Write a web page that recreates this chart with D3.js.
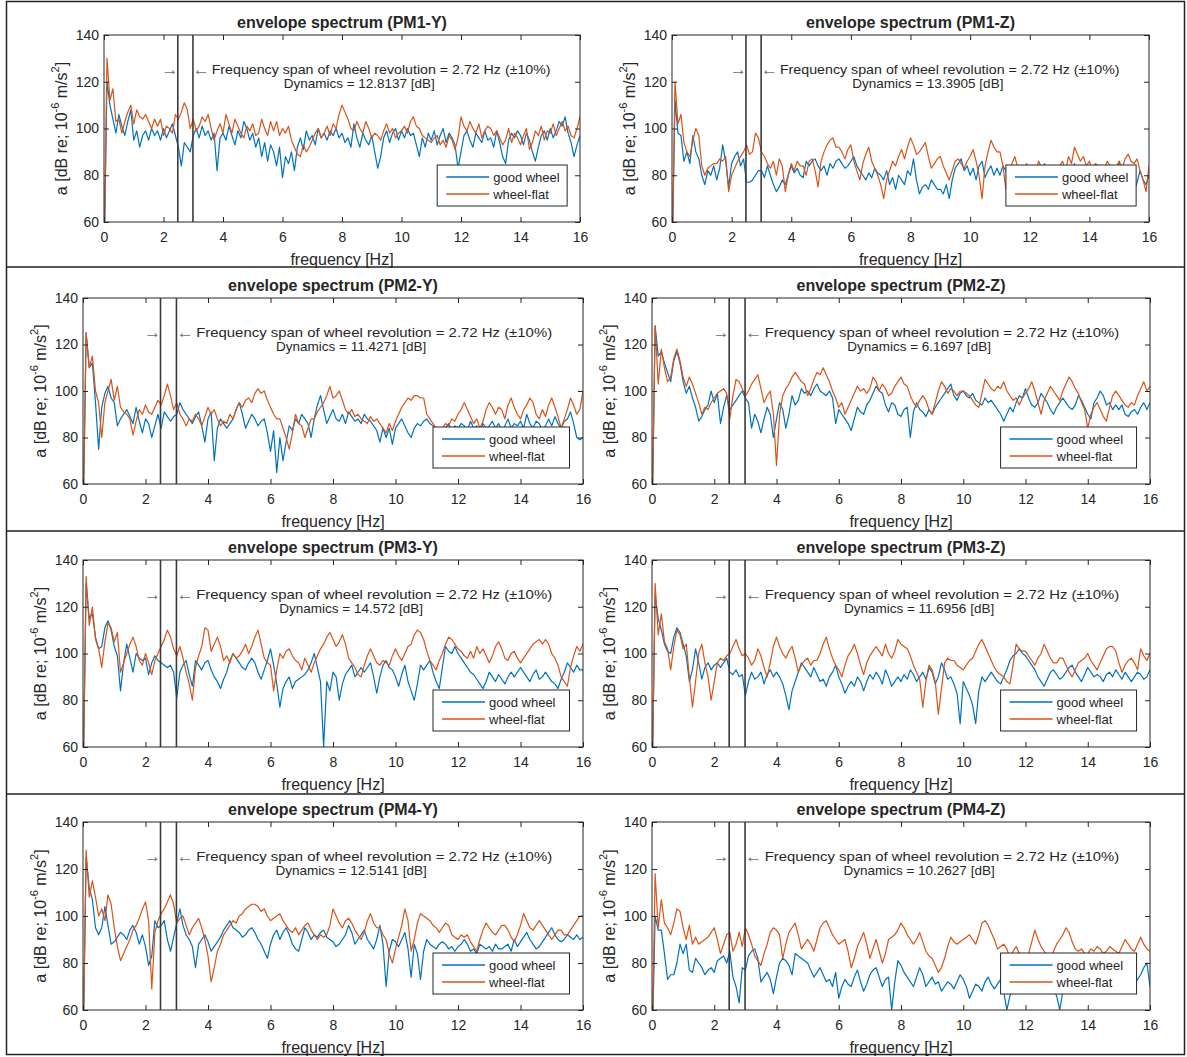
<!DOCTYPE html>
<html>
<head>
<meta charset="utf-8">
<script src="https://cdn.jsdelivr.net/npm/d3@7"></script>
<style>
body { margin: 0; background: #fff; }
svg text { font-family: "Liberation Sans", Arial, sans-serif; fill: #262626; }
</style>
</head>
<body>
<script>
// frequency grid, 0 .. 16 Hz every 0.1 Hz
var freq = d3.range(161).map(function(i) { return i / 10; });

var xTicks = [0, 2, 4, 6, 8, 10, 12, 14, 16];
var yTicks = [60, 80, 100, 120, 140];
var spanLines = [2.48, 2.99];

var panelNames = ["PM1-Y", "PM1-Z", "PM2-Y", "PM2-Z", "PM3-Y", "PM3-Z", "PM4-Y", "PM4-Z"];
var dynamics = ["12.8137", "13.3905", "11.4271", "6.1697", "14.572", "11.6956", "12.5141", "10.2627"];
var seriesNames = ["good wheel", "wheel-flat"];

// one row per Hz
var pm1yGood = [40,120,110,104,98,106,101,97,103,108,
95,99,92,97,99,95,100,97,99,95,
100,96,99,102,97,92,84,94,92,90,
97,100,96,101,97,99,95,98,82,96,
98,95,101,97,93,99,96,103,100,95,
98,92,96,88,94,86,93,90,84,92,
79,88,85,90,82,92,96,91,99,95,
97,93,100,96,98,95,99,97,100,96,
98,94,96,92,102,96,92,98,95,93,
97,90,83,88,96,99,94,98,100,95,
99,96,100,97,98,93,88,96,92,98,
95,99,93,97,100,94,98,96,93,83,
90,97,99,95,92,98,96,94,99,95,
96,92,99,94,88,85,95,98,96,99,
97,93,98,95,90,86,92,97,99,95,
100,96,99,103,101,105,98,94,88,93,
97];
var pm1yFlat = [40,130,112,117,103,104,98,103,107,110,
102,108,105,104,106,103,100,104,101,104,
97,101,100,98,106,104,107,111,108,100,
104,99,101,105,103,106,100,95,99,102,
98,106,102,98,104,101,98,96,101,99,
102,97,98,104,100,97,103,99,103,97,
100,98,101,95,92,89,88,93,90,92,
95,98,100,96,98,101,97,102,100,106,
110,107,104,100,99,103,100,98,103,100,
96,98,97,95,99,102,98,100,96,98,
99,101,98,103,105,101,100,97,96,95,
94,96,97,93,95,92,97,95,91,96,
105,101,99,103,100,98,102,96,99,101,
100,97,99,96,93,95,100,94,98,96,
93,97,100,91,94,99,97,101,95,99,
98,102,97,100,103,99,101,97,96,100,
105];
var pm1zGood = [40,112,98,97,86,90,85,97,90,87,
80,76,82,80,84,78,83,93,86,75,
85,88,90,84,87,77,77,78,80,82,
82,79,84,80,76,73,75,78,76,80,
84,81,83,80,79,86,84,86,87,84,
82,84,80,85,83,86,87,85,83,84,
86,88,84,82,80,78,81,79,83,81,
80,78,82,76,79,74,80,78,76,82,
80,87,78,72,75,76,74,78,76,74,
74,72,76,70,78,83,85,87,82,84,
80,83,78,84,86,79,82,84,80,83,
80,84,82,78,83,80,79,82,78,81,
80,78,82,79,81,77,80,83,78,80,
82,78,80,77,81,85,79,82,78,80,
84,79,81,76,80,82,78,81,79,83,
86,80,78,84,79,73,77,82,78,76,
80];
var pm1zFlat = [40,120,102,106,94,90,88,95,100,97,
84,80,83,84,85,85,87,86,88,73,
80,83,86,88,90,93,89,90,98,96,
90,88,85,83,86,80,87,84,73,80,
85,82,86,84,84,80,86,87,82,75,
86,90,93,95,96,92,92,90,87,91,
93,86,82,78,85,89,92,86,83,80,
76,70,78,82,86,84,88,91,87,92,
96,93,89,90,92,94,88,83,85,87,
88,84,81,78,82,86,87,85,83,86,
88,91,86,80,70,84,90,95,92,90,
90,84,74,80,85,88,83,80,82,85,
80,84,82,86,83,85,81,84,80,83,
84,86,82,88,85,92,89,86,88,84,
86,82,85,84,80,83,86,84,81,83,
86,83,87,89,86,85,87,82,78,73,
84];
var pm2yGood = [40,125,110,112,95,75,93,99,102,97,
95,85,88,90,92,89,86,93,87,82,
88,86,80,85,90,84,91,89,87,89,
90,95,92,90,88,86,89,91,85,78,
88,91,70,84,88,86,84,86,88,92,
95,90,84,87,90,88,85,87,88,82,
74,83,65,80,70,78,85,83,88,86,
90,88,86,80,88,94,98,92,86,89,
92,88,87,90,86,91,89,87,88,86,
90,88,87,85,83,78,84,80,84,77,
84,86,88,85,82,80,84,86,85,87,
88,86,85,83,84,82,84,86,83,85,
84,86,85,83,87,84,85,82,86,84,
85,87,84,86,83,85,88,84,86,85,
87,84,90,86,84,87,86,83,85,88,
85,89,86,84,87,88,91,86,80,79,
80];
var pm2yFlat = [40,125,110,115,100,95,80,95,100,105,
96,102,93,91,90,88,81,87,92,90,
94,91,90,93,96,94,98,103,98,92,
95,90,88,85,88,87,90,88,85,89,
93,90,92,88,85,87,86,90,88,92,
95,93,96,97,95,99,101,99,100,96,
93,90,88,88,84,80,75,82,90,86,
85,80,84,88,88,91,93,95,98,102,
97,98,100,96,92,90,92,89,90,88,
87,86,89,87,88,86,84,82,86,83,
87,90,93,95,97,96,98,98,97,97,
90,88,86,84,82,84,86,85,88,87,
90,92,95,92,89,86,88,84,87,92,
95,93,90,93,92,88,94,97,93,90,
88,92,94,97,95,90,88,92,89,94,
97,93,89,84,88,92,97,94,90,92,
100];
var pm2zGood = [40,128,115,117,112,108,104,113,117,112,
104,99,102,97,93,87,89,92,94,100,
95,99,86,93,98,92,94,96,98,100,
97,95,84,90,87,82,88,93,90,80,
88,95,92,84,90,98,94,96,101,99,
100,98,101,103,100,99,98,100,97,86,
92,90,88,86,83,88,93,91,90,94,
96,99,102,100,99,94,91,95,94,90,
89,92,93,80,91,95,92,91,89,92,
90,93,95,97,99,101,103,98,96,99,
100,98,97,99,96,95,94,97,95,96,
94,92,90,87,90,93,91,95,98,97,
101,97,94,93,95,99,97,95,92,90,
93,95,97,95,93,92,94,98,96,93,
90,88,95,97,100,98,94,95,92,94,
92,94,90,89,91,92,90,93,95,92,
95];
var pm2zFlat = [40,128,103,118,110,104,106,114,118,113,
106,102,106,103,99,95,90,93,92,95,
97,99,100,101,99,88,98,105,104,101,
98,100,103,105,107,101,95,98,100,90,
68,90,98,101,103,106,108,106,104,103,
98,101,105,108,107,110,107,104,100,97,
93,95,90,93,96,99,102,100,101,99,
101,106,104,100,103,101,98,99,102,104,
106,103,102,98,95,93,96,98,96,92,
90,95,100,104,102,99,101,100,98,100,
100,99,98,96,94,93,99,105,103,101,
100,102,101,104,100,98,96,97,94,97,
99,101,104,100,95,90,96,99,102,100,
98,96,100,103,106,104,101,99,95,92,
84,90,93,95,92,89,87,93,98,100,
98,96,94,93,95,94,98,101,104,100,
102];
var pm3yGood = [40,130,115,117,107,102,103,111,114,110,
103,99,84,96,104,98,92,100,98,97,
98,91,96,99,97,96,95,94,95,92,
81,92,95,97,91,86,97,95,93,96,
97,93,90,88,85,89,92,97,100,98,
96,94,93,96,98,96,92,89,93,97,
102,95,87,77,85,88,90,85,88,89,
90,91,93,96,100,94,88,60,88,84,
92,90,80,87,91,93,95,90,92,94,
92,94,96,90,83,90,95,97,94,93,
90,86,91,95,88,84,80,87,95,93,
95,97,92,88,85,94,103,101,100,103,
100,98,96,94,92,91,89,87,85,88,
92,90,88,91,89,87,90,92,90,92,
94,92,90,88,91,93,89,90,92,90,
88,87,85,89,92,96,94,92,95,93,
93];
var pm3yFlat = [40,133,112,120,106,102,94,105,113,111,
105,109,92,96,100,104,107,103,97,95,
100,96,91,97,100,103,106,110,107,102,
99,103,98,92,87,80,94,99,103,111,
110,101,104,107,103,97,99,96,100,98,
99,101,104,100,103,107,110,104,98,96,
95,84,93,100,98,101,102,99,97,96,
93,98,95,92,96,99,102,104,107,109,
106,103,105,108,104,98,96,94,91,90,
95,99,102,99,96,95,97,96,95,99,
102,99,97,100,103,104,108,110,109,106,
101,97,95,93,97,100,104,107,106,104,
102,101,99,98,101,98,103,100,102,99,
96,99,103,105,102,98,97,100,101,98,
96,98,100,102,104,105,106,104,106,104,
100,98,95,90,88,86,94,99,103,101,
104];
var pm3zGood = [40,125,115,110,104,101,100,107,111,109,
104,99,88,93,102,96,89,94,96,93,
95,96,94,96,98,92,91,93,90,91,
82,88,92,89,90,92,87,91,93,90,
92,90,87,82,76,84,88,92,96,94,
92,90,94,91,88,89,86,90,92,95,
90,87,83,86,88,86,90,88,84,88,
91,89,92,90,87,93,90,86,88,90,
88,91,89,93,91,88,90,92,89,94,
92,87,90,96,93,89,90,87,83,70,
88,85,82,78,70,84,90,88,90,92,
90,88,87,90,93,97,99,100,102,100,
99,97,95,93,90,88,86,89,92,93,
91,89,90,92,94,95,92,90,88,91,
94,92,90,91,90,88,91,92,90,93,
91,89,92,90,88,90,92,91,89,90,
93];
var pm3zFlat = [40,130,108,117,105,102,93,103,110,108,
102,104,90,77,88,100,104,96,90,80,
88,96,98,97,99,100,103,106,102,99,
100,98,95,97,102,99,94,90,96,103,
107,103,100,98,101,103,98,92,95,97,
98,95,97,97,100,104,107,102,98,95,
93,90,95,99,101,104,100,95,91,96,
99,101,103,101,99,104,100,98,101,106,
104,103,102,99,95,92,89,77,88,95,
93,88,74,85,96,98,97,97,95,94,
93,95,97,98,101,104,106,103,100,97,
94,92,91,90,88,87,95,104,102,101,
101,99,97,95,98,100,104,101,98,96,
96,98,98,95,92,90,93,96,97,98,
100,97,95,93,96,99,102,103,103,101,
96,92,95,97,98,96,93,102,99,97,
100];
var pm4yGood = [40,125,112,107,95,92,95,104,96,88,
89,91,93,92,90,94,96,93,88,92,
87,79,83,98,95,96,98,90,85,91,
97,103,96,92,90,87,78,88,90,92,
89,85,87,89,91,94,96,98,95,94,
93,91,92,94,95,93,90,88,85,82,
88,92,94,90,93,95,92,88,86,85,
90,95,93,90,92,91,93,94,91,90,
89,87,88,90,92,96,93,88,90,92,
94,90,88,86,90,96,88,70,85,90,
89,87,90,93,86,74,88,84,73,85,
90,88,87,86,88,89,88,86,87,85,
87,88,90,88,85,86,84,88,87,86,
87,85,88,86,86,87,88,85,90,87,
89,91,93,90,88,86,87,89,91,93,
95,92,90,89,90,92,91,90,92,90,
91];
var pm4yFlat = [40,128,108,115,108,100,103,98,109,105,
95,87,81,84,87,90,94,96,99,103,
106,98,69,93,98,101,103,106,109,105,
97,99,100,96,92,95,97,99,95,90,
83,72,78,85,88,92,94,96,98,97,
100,101,103,104,105,105,104,102,103,100,
98,99,100,101,98,96,94,93,95,92,
94,96,97,94,92,90,92,91,92,96,
103,100,97,95,98,99,97,94,92,90,
93,98,101,97,95,95,92,90,84,80,
86,91,96,103,98,85,90,97,101,100,
99,98,96,95,93,95,97,96,92,91,
90,92,91,92,89,87,85,90,94,97,
95,93,92,94,96,96,94,91,89,92,
96,101,98,95,94,96,98,96,94,92,
90,92,94,94,92,92,94,96,98,100,
100];
var pm4zGood = [40,100,94,94,84,73,75,75,80,88,
84,88,77,76,82,80,78,75,77,78,
76,81,82,83,80,85,74,70,63,78,
77,83,85,86,82,72,74,76,73,67,
74,80,82,81,79,75,84,83,82,81,
80,77,74,76,78,75,72,73,70,76,
65,70,73,71,70,74,77,72,68,71,
75,77,78,74,70,73,74,60,72,81,
79,76,74,72,70,74,78,75,70,72,
74,71,72,68,70,72,71,69,72,75,
73,70,65,68,71,70,68,72,74,71,
69,71,73,68,60,66,70,72,71,72,
77,75,73,75,72,68,70,73,72,69,
66,60,68,70,72,71,73,74,71,70,
70,72,73,71,75,74,72,70,73,74,
72,74,76,75,73,71,73,75,78,80,
70];
var pm4zFlat = [40,118,95,107,97,95,92,97,103,102,
95,90,96,88,91,88,89,90,91,93,
95,90,84,88,92,93,85,88,93,87,
95,92,88,83,81,79,84,88,93,95,
94,92,82,88,93,95,97,92,86,88,
90,88,85,90,95,97,98,95,92,90,
88,89,90,85,78,82,87,90,93,88,
82,86,90,85,80,84,90,91,92,94,
97,95,92,90,88,90,93,89,85,83,
82,79,76,78,82,87,91,89,88,89,
90,91,92,90,88,92,97,98,96,93,
90,86,87,88,86,82,85,87,84,82,
80,84,89,94,90,87,85,83,82,85,
88,90,92,95,93,89,86,85,86,84,
84,86,85,87,86,84,85,87,86,85,
84,87,90,88,86,85,88,91,88,86,
85];

var goodSeries = [pm1yGood, pm1zGood, pm2yGood, pm2zGood, pm3yGood, pm3zGood, pm4yGood, pm4zGood];
var flatSeries = [pm1yFlat, pm1zFlat, pm2yFlat, pm2zFlat, pm3yFlat, pm3zFlat, pm4yFlat, pm4zFlat];

var colors = ["#0072BD", "#D95319"];

// axes boxes in the figure (pixels)
var colX = [[[104, 580], [672, 1149]],
            [[83, 583], [652, 1150]],
            [[83, 583], [652, 1150]],
            [[83, 583], [652, 1150]]];
var rowTop = [35, 298, 560, 822];
var rowBottom = [222, 484, 747, 1010];

var svg = d3.select("body").append("svg")
    .attr("width", 1187)
    .attr("height", 1057);

svg.append("rect")
    .attr("x", 6.5).attr("y", 1.5)
    .attr("width", 1178).attr("height", 1053)
    .attr("fill", "none")
    .attr("stroke", "#222")
    .attr("stroke-width", 1.5);

[267, 531, 794].forEach(function(yy) {
    svg.append("line")
        .attr("x1", 6.5).attr("x2", 1184.5)
        .attr("y1", yy).attr("y2", yy)
        .attr("stroke", "#222")
        .attr("stroke-width", 1.5);
});

panelNames.forEach(function(name, i) {
    var row = Math.floor(i / 2), col = i % 2;
    var x0 = colX[row][col][0], x1 = colX[row][col][1];
    var y0 = rowTop[row], y1 = rowBottom[row];
    var W = x1 - x0;

    var x = d3.scaleLinear().domain([0, 16]).range([x0, x1]);
    var y = d3.scaleLinear().domain([60, 140]).range([y1, y0]);

    var g = svg.append("g").attr("class", "panel");

    g.append("clipPath").attr("id", "clip" + i)
        .append("rect")
        .attr("x", x0).attr("y", y0)
        .attr("width", W).attr("height", y1 - y0);

    var line = d3.line()
        .x(function(d, j) { return x(freq[j]); })
        .y(function(d) { return y(d); });

    [goodSeries[i], flatSeries[i]].forEach(function(s, k) {
        g.append("path")
            .datum(s)
            .attr("clip-path", "url(#clip" + i + ")")
            .attr("fill", "none")
            .attr("stroke", colors[k])
            .attr("stroke-width", 1.2)
            .attr("stroke-linejoin", "round")
            .attr("d", line);
    });

    // ticks inside on all four sides
    var bottom = g.append("g").attr("transform", "translate(0," + y1 + ")")
        .call(d3.axisBottom(x).tickValues(xTicks).tickSizeInner(-5).tickSizeOuter(0).tickPadding(10));
    var top = g.append("g").attr("transform", "translate(0," + y0 + ")")
        .call(d3.axisTop(x).tickValues(xTicks).tickSizeInner(-5).tickSizeOuter(0).tickFormat(""));
    var left = g.append("g").attr("transform", "translate(" + x0 + ",0)")
        .call(d3.axisLeft(y).tickValues(yTicks).tickSizeInner(-5).tickSizeOuter(0).tickPadding(5));
    var right = g.append("g").attr("transform", "translate(" + x1 + ",0)")
        .call(d3.axisRight(y).tickValues(yTicks).tickSizeInner(-5).tickSizeOuter(0).tickFormat(""));

    [bottom, top, left, right].forEach(function(a) {
        a.select(".domain").remove();
        a.selectAll("line").attr("stroke", "#262626");
        a.selectAll("text").attr("font-size", 14).attr("fill", "#262626")
            .style("font-family", "Liberation Sans, Arial, sans-serif");
    });

    g.append("rect")
        .attr("x", x0).attr("y", y0)
        .attr("width", W).attr("height", y1 - y0)
        .attr("fill", "none")
        .attr("stroke", "#262626")
        .attr("stroke-width", 1);

    // wheel revolution span
    spanLines.forEach(function(f) {
        g.append("line")
            .attr("x1", x(f)).attr("x2", x(f))
            .attr("y1", y0).attr("y2", y1)
            .attr("stroke", "#3a3a3a")
            .attr("stroke-width", 1.6);
    });

    g.append("text")
        .attr("x", x(2.22)).attr("y", y0 + 34)
        .attr("text-anchor", "middle")
        .attr("dominant-baseline", "central")
        .attr("font-size", 17)
        .style("fill", "#6e6e6e")
        .text("\u2192");
    g.append("text")
        .attr("x", x(3.27)).attr("y", y0 + 34)
        .attr("text-anchor", "middle")
        .attr("dominant-baseline", "central")
        .attr("font-size", 17)
        .style("fill", "#6e6e6e")
        .text("\u2190");

    g.append("text")
        .attr("x", x(3.62)).attr("y", y0 + 34)
        .attr("dominant-baseline", "central")
        .attr("font-size", 13.5)
        .attr("textLength", 0.712 * W)
        .attr("lengthAdjust", "spacingAndGlyphs")
        .text("Frequency span of wheel revolution = 2.72 Hz (\u00b110%)");

    g.append("text")
        .attr("x", x(8.58)).attr("y", y0 + 48)
        .attr("text-anchor", "middle")
        .attr("dominant-baseline", "central")
        .attr("font-size", 13.5)
        .text("Dynamics =  " + dynamics[i] + " [dB]");

    // title and axis labels
    g.append("text")
        .attr("x", (x0 + x1) / 2).attr("y", y0 - 13)
        .attr("text-anchor", "middle")
        .attr("dominant-baseline", "central")
        .attr("font-size", 16)
        .attr("font-weight", "bold")
        .text("envelope spectrum (" + name + ")");

    g.append("text")
        .attr("x", (x0 + x1) / 2).attr("y", y1 + 37)
        .attr("text-anchor", "middle")
        .attr("dominant-baseline", "central")
        .attr("font-size", 16)
        .text("frequency [Hz]");

    var yl = g.append("text")
        .attr("transform", "translate(" + (x0 - 43) + "," + ((y0 + y1) / 2) + ") rotate(-90)")
        .attr("text-anchor", "middle")
        .attr("dominant-baseline", "central")
        .attr("font-size", 16);
    yl.append("tspan").text("a [dB re; 10");
    yl.append("tspan").attr("dy", -6).attr("font-size", 11).text("-6");
    yl.append("tspan").attr("dy", 6).text(" m/s");
    yl.append("tspan").attr("dy", -6).attr("font-size", 11).text("2");
    yl.append("tspan").attr("dy", 6).text("]");

    // legend
    var lw = 0.273 * W, lh = 41;
    var lx = x1 - 0.027 * W - lw, ly = y1 - 16 - lh;
    var leg = g.append("g").attr("transform", "translate(" + lx + "," + ly + ")");
    leg.append("rect")
        .attr("width", lw).attr("height", lh)
        .attr("fill", "#fff")
        .attr("stroke", "#262626")
        .attr("stroke-width", 1);
    seriesNames.forEach(function(s, k) {
        var ry = 12 + k * 17;
        leg.append("line")
            .attr("x1", 9).attr("x2", 52)
            .attr("y1", ry).attr("y2", ry)
            .attr("stroke", colors[k])
            .attr("stroke-width", 1.4);
        leg.append("text")
            .attr("x", 56).attr("y", ry)
            .attr("dominant-baseline", "central")
            .attr("font-size", 13)
            .text(s);
    });
});
</script>
</body>
</html>
